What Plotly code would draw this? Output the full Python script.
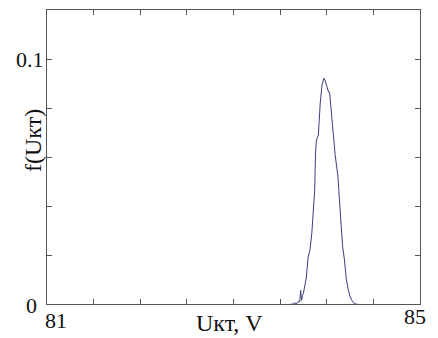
import plotly.graph_objects as go

u_kt = [83.62, 83.64, 83.66, 83.68, 83.70, 83.71, 83.72, 83.73, 83.74, 83.75,
        83.76, 83.78, 83.80, 83.82, 83.84, 83.86, 83.87, 83.88, 83.89, 83.91,
        83.93, 83.95, 83.96, 83.97, 83.98, 83.99, 84.00, 84.01, 84.02, 84.03,
        84.04, 84.05, 84.07, 84.09, 84.11, 84.12, 84.13, 84.15, 84.17, 84.19,
        84.21, 84.23, 84.25, 84.27, 84.29, 84.31, 84.33]
f_u = [0.0, 0.0, 0.0004, 0.0002, 0.0012, 0.0008, 0.0055, 0.0015, 0.0035, 0.0044,
       0.0065, 0.0105, 0.019, 0.022, 0.029, 0.038, 0.046, 0.062, 0.067, 0.069,
       0.082, 0.0895, 0.0915, 0.0922, 0.0915, 0.090, 0.0895, 0.0875, 0.0865, 0.0865,
       0.082, 0.076, 0.068, 0.061, 0.055, 0.052, 0.046, 0.036, 0.0235, 0.018,
       0.010, 0.006, 0.003, 0.0015, 0.0004, 0.0, 0.0]

x_range = [81, 85]
y_range = [0, 0.12]
x_labels = ["81", "85"]
y_labels = ["0", "0.1"]
x_label_vals = [81, 85]
y_label_vals = [0, 0.1]

FONT = "Liberation Serif, Times New Roman, serif"
AX = "#555555"

fig = go.Figure()
fig.add_trace(go.Scatter(x=u_kt, y=f_u, mode="lines",
                         line=dict(color="#3a3e82", width=1), showlegend=False))

axis_common = dict(showgrid=False, zeroline=False, showline=True, linecolor=AX,
                   linewidth=1.3, mirror="ticks", ticks="inside", ticklen=5,
                   tickcolor=AX, tickwidth=1, showticklabels=False)
fig.update_xaxes(range=x_range, dtick=0.5, tick0=81, **axis_common)
fig.update_yaxes(range=y_range, dtick=0.02, tick0=0, **axis_common)

annotations = []
# x tick labels
annotations.append(dict(x=x_label_vals[0], y=0, xref="x", yref="y", text=x_labels[0],
                        showarrow=False, xanchor="center", yanchor="top",
                        xshift=9, yshift=-2, font=dict(family=FONT, size=22, color="#111")))
annotations.append(dict(x=x_label_vals[1], y=0, xref="x", yref="y", text=x_labels[1],
                        showarrow=False, xanchor="center", yanchor="top",
                        xshift=-5, yshift=2, font=dict(family=FONT, size=22, color="#111")))
# y tick labels
annotations.append(dict(x=81, y=y_label_vals[0], xref="x", yref="y", text=y_labels[0],
                        showarrow=False, xanchor="right", yanchor="middle",
                        xshift=-8, yshift=-1, font=dict(family=FONT, size=22, color="#111")))
annotations.append(dict(x=81, y=y_label_vals[1], xref="x", yref="y", text=y_labels[1],
                        showarrow=False, xanchor="right", yanchor="middle",
                        xshift=-1, yshift=0, font=dict(family=FONT, size=22, color="#111")))
# axis titles
annotations.append(dict(x=229, y=323, xref="paper", yref="paper", text="Uкт, V",
                        showarrow=False, font=dict(family=FONT, size=24, color="#111")))
annotations.append(dict(x=33, y=141, xref="paper", yref="paper", text="f(Uкт)",
                        textangle=-90, showarrow=False,
                        font=dict(family=FONT, size=24, color="#111")))

# convert pixel positions for titles into paper coords
L, R, T, B = 47, 18, 10, 34
W, H = 438, 338
pw, ph = W - L - R, H - T - B
for a in annotations[-2:]:
    px, py = a["x"], a["y"]
    a["x"] = (px - L) / pw
    a["y"] = (H - B - py) / ph
    a["xanchor"] = "center"
    a["yanchor"] = "middle"

fig.update_layout(width=W, height=H, autosize=False,
                  margin=dict(l=L, r=R, t=T, b=B),
                  plot_bgcolor="white", paper_bgcolor="white",
                  annotations=annotations)

fig.write_html("out.html", config={"displayModeBar": False},
               post_script="document.body.style.margin='0';document.body.style.overflow='hidden';")
